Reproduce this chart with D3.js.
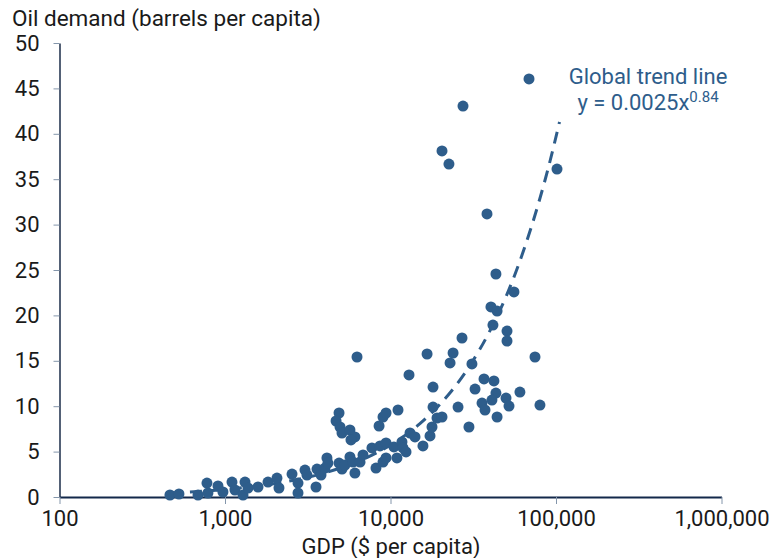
<!DOCTYPE html>
<html>
<head>
<meta charset="utf-8">
<script src="https://cdn.jsdelivr.net/npm/d3@7"></script>
<style>
  body { margin: 0; background: #fff; }
  svg text { font-family: Roboto, "Noto Sans", sans-serif; }
</style>
</head>
<body>
<div id="chart"></div>
<script>
// GDP per capita ($) for each country
const gdpPerCapita = [
    465, 527, 687, 778, 789, 907, 972, 1102, 1149, 1321,
    1285, 1377, 1583, 1819, 2061, 2119, 2541, 2761, 2761, 3043,
    3128, 3548, 3597, 3802, 4018, 4130, 4188, 4887, 5093, 5309,
    5689, 5929, 6095, 6546, 6823, 7727, 8170, 9010, 9398, 8645,
    9398, 10490, 10940, 11730, 11900, 12410, 13120, 14060, 15710, 4887,
    4688, 4955, 5093, 5689, 6095, 5770, 8530, 9010, 9398, 11100,
    6277, 12940, 17330, 17820, 19100, 20470, 18070, 18070, 25590, 29790,
    35730, 37240, 44060, 32420, 36730, 42170, 43350, 41020, 49890, 52000,
    60530, 80000, 22900, 31050, 23880, 16630, 27040, 74650, 50580, 50580,
    41590, 40460, 44060, 55720, 43350, 38280, 20470, 22550, 27420, 68710,
    101400
];

// Oil demand (barrels per capita), same order as above
const oilPerCapita = [
    0.22, 0.33, 0.22, 1.54, 0.44, 1.21, 0.55, 1.65, 0.77, 1.65,
    0.22, 0.99, 1.10, 1.65, 2.09, 0.99, 2.53, 1.54, 0.44, 2.97,
    2.42, 1.10, 3.08, 2.42, 3.19, 4.30, 3.74, 3.74, 3.08, 3.52,
    4.41, 3.85, 2.64, 3.85, 4.63, 5.40, 3.19, 3.85, 4.30, 5.62,
    5.95, 5.51, 4.30, 6.06, 5.40, 4.96, 7.05, 6.61, 5.62, 9.25,
    8.37, 7.71, 7.05, 7.38, 6.61, 6.28, 7.82, 8.81, 9.25, 9.58,
    15.42, 13.44, 6.72, 7.71, 8.70, 8.81, 9.91, 12.11, 9.91, 7.71,
    10.35, 9.58, 8.81, 11.89, 13.0, 12.78, 11.45, 10.68, 10.90, 10.02,
    11.56, 10.13, 14.76, 14.65, 15.86, 15.75, 17.51, 15.42, 18.28, 17.18,
    18.94, 20.93, 20.48, 22.58, 24.56, 31.17, 38.11, 36.67, 43.06, 46.04,
    36.12
];

// Global trend line (y = 0.0025x^0.84)
const trendGdp = [465, 1000, 2000, 4000, 7000, 10000, 15000, 20000, 30000, 40000, 50000, 60000, 70000, 80000, 90000, 105000];
const trendOil = [0.44, 0.83, 1.48, 2.65, 4.25, 5.73, 8.05, 10.25, 14.4, 18.35, 22.1, 25.8, 29.4, 32.9, 36.3, 41.3];

// Axis ticks
const xTickValues = [100, 1000, 10000, 100000, 1000000];
const yTickValues = [0, 5, 10, 15, 20, 25, 30, 35, 40, 45, 50];

const width = 774;
const height = 558;
const margin = { top: 43, right: 52.5, bottom: 61, left: 59.5 };

const blue = "#2e5d8b";

const svg = d3.select("#chart").append("svg")
    .attr("width", width)
    .attr("height", height);

// Scales
const xScale = d3.scaleLog()
    .domain([100, 1000000])
    .range([margin.left, width - margin.right]);

const yScale = d3.scaleLinear()
    .domain([0, 50])
    .range([height - margin.bottom, margin.top]);

// Y axis
const yAxis = d3.axisLeft(yScale)
    .tickValues(yTickValues)
    .tickSize(6)
    .tickSizeOuter(0)
    .tickPadding(14)
    .tickFormat(d3.format("d"));

const yAxisGroup = svg.append("g")
    .attr("transform", "translate(" + margin.left + ",0)")
    .call(yAxis);

yAxisGroup.select(".domain")
    .attr("stroke", "#1b2d48")
    .attr("stroke-width", 1.5);
yAxisGroup.selectAll(".tick line")
    .attr("stroke", "#8496ab");
yAxisGroup.selectAll(".tick text")
    .attr("fill", "#1a1a1a")
    .style("font-size", "22px");

// X axis
const xAxis = d3.axisBottom(xScale)
    .tickValues(xTickValues)
    .tickSize(7)
    .tickSizeOuter(0)
    .tickPadding(6)
    .tickFormat(d3.format(","));

const xAxisGroup = svg.append("g")
    .attr("transform", "translate(0," + (height - margin.bottom) + ")")
    .call(xAxis);

xAxisGroup.select(".domain")
    .attr("stroke", "#13294b")
    .attr("stroke-width", 2);
xAxisGroup.selectAll(".tick line")
    .attr("stroke", "#8496ab");
xAxisGroup.selectAll(".tick text")
    .attr("fill", "#1a1a1a")
    .style("font-size", "22px");

// Axis titles
svg.append("text")
    .attr("x", 12)
    .attr("y", 26)
    .attr("fill", "#1a1a1a")
    .style("font-size", "22.5px")
    .text("Oil demand (barrels per capita)");

svg.append("text")
    .attr("x", 391)
    .attr("y", 554)
    .attr("text-anchor", "middle")
    .attr("fill", "#1a1a1a")
    .style("font-size", "22px")
    .text("GDP ($ per capita)");

// Dashed trend line
const trendData = trendGdp.map((g, i) => ({ gdp: g, oil: trendOil[i] }));
const trendLine = d3.line()
    .x(d => xScale(d.gdp))
    .y(d => yScale(d.oil))
    .curve(d3.curveMonotoneX);

svg.append("path")
    .datum(trendData)
    .attr("d", trendLine)
    .attr("fill", "none")
    .attr("stroke", blue)
    .attr("stroke-width", 3)
    .attr("stroke-dasharray", "12,8");

// Country dots
const points = gdpPerCapita.map((g, i) => ({ gdp: g, oil: oilPerCapita[i] }));
svg.append("g")
    .selectAll("circle")
    .data(points)
    .join("circle")
    .attr("cx", d => xScale(d.gdp))
    .attr("cy", d => yScale(d.oil))
    .attr("r", 5.5)
    .attr("fill", blue);

// Trend line label
const label = svg.append("text")
    .attr("text-anchor", "middle")
    .attr("fill", blue)
    .style("font-size", "22px");

label.append("tspan")
    .attr("x", 648)
    .attr("y", 84)
    .text("Global trend line");

label.append("tspan")
    .attr("x", 648)
    .attr("y", 110)
    .text("y = 0.0025x")
  .append("tspan")
    .attr("dy", -8)
    .style("font-size", "15px")
    .text("0.84");
</script>
</body>
</html>
